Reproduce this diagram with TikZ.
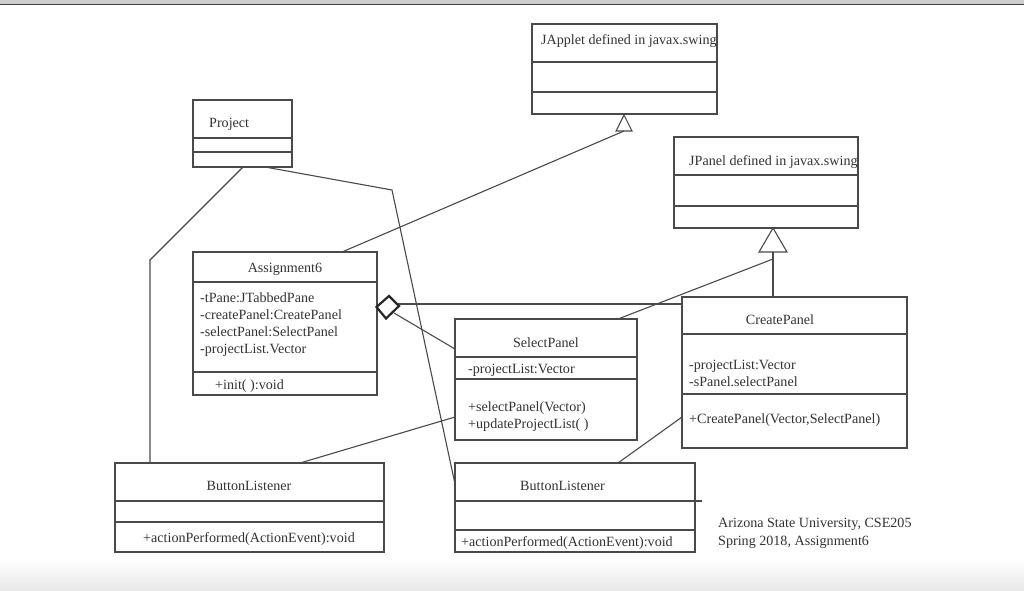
\documentclass[tikz,border=0pt]{standalone}
\usepackage{fontspec}
\setmainfont{Liberation Serif}
\usetikzlibrary{shapes.geometric}
\definecolor{ln}{HTML}{4A4A4A}
\definecolor{tx}{HTML}{333333}
\begin{document}
\begin{tikzpicture}[x=1pt,y=-1pt,
  box/.style={draw=ln,line width=1.1pt,anchor=north west,inner sep=0pt,outer sep=0pt},
  sep/.style={draw=ln,line width=1.1pt},
  conn/.style={draw=ln,line width=1.1pt},
  lbl/.style={text=tx,font=\fontsize{14.1}{17}\selectfont,inner sep=0pt},
  lw/.style={lbl,anchor=base west},
  lc/.style={lbl,anchor=base},
  tri/.style={draw=ln,line width=1.1pt,fill=white}]
\useasboundingbox (0,0) rectangle (1024,590);
% page background
\fill[white] (0,0) rectangle (1024,590);
\fill[gray!40] (0,0) rectangle (1024,3.5);
\fill[black!75] (0,3.5) rectangle (1024,5);
\shade[top color=white,bottom color=black!9] (0,560) rectangle (1024,590);

% JApplet
\node[box,minimum width=185pt,minimum height=90pt] (ja) at (532,24) {};
\draw[sep] (532,62) -- (717,62);
\draw[sep] (532,92) -- (717,92);
\node[lw] (jat) at (541,44) {JApplet defined in javax.swing};

% Project
\node[box,minimum width=99pt,minimum height=67pt] (pr) at (193,100) {};
\draw[sep] (193,138) -- (292,138);
\draw[sep] (193,152) -- (292,152);
\node[lw] (prt) at (209,127) {Project};

% Assignment6
\node[box,minimum width=184pt,minimum height=143pt] (as) at (193,252) {};
\draw[sep] (193,282) -- (377,282);
\draw[sep] (193,372) -- (377,372);
\node[lc] (ast) at (285,272) {Assignment6};
\node[lw] (asa1) at (200,302) {-tPane:JTabbedPane};
\node[lw] (asa2) at (200,319) {-createPanel:CreatePanel};
\node[lw] (asa3) at (200,336) {-selectPanel:SelectPanel};
\node[lw] (asa4) at (200,353) {-projectList.Vector};
\node[lw] (asm) at (215,389) {+init( ):void};

% SelectPanel
\node[box,minimum width=182pt,minimum height=121pt] (sp) at (455,319) {};
\draw[sep] (455,357) -- (637,357);
\draw[sep] (455,379) -- (637,379);
\node[lc] (spt) at (546,347) {SelectPanel};
\node[lw] (spa) at (468,373) {-projectList:Vector};
\node[lw] (spm1) at (468,411) {+selectPanel(Vector)};
\node[lw] (spm2) at (468,428) {+updateProjectList( )};

% JPanel
\node[box,minimum width=184pt,minimum height=91pt] (jp) at (674,137) {};
\draw[sep] (674,175) -- (858,175);
\draw[sep] (674,206) -- (858,206);
\node[lw] (jpt) at (689,165) {JPanel defined in javax.swing};

% CreatePanel
\node[box,minimum width=225pt,minimum height=151pt] (cp) at (682,297) {};
\draw[sep] (682,334) -- (907,334);
\draw[sep] (682,394) -- (907,394);
\node[lc] (cpt) at (780,324) {CreatePanel};
\node[lw] (cpa1) at (689,369) {-projectList:Vector};
\node[lw] (cpa2) at (689,386) {-sPanel.selectPanel};
\node[lw] (cpm) at (689,423) {+CreatePanel(Vector,SelectPanel)};

% ButtonListener 1
\node[box,minimum width=269pt,minimum height=89pt] (b1) at (115,463) {};
\draw[sep] (115,501) -- (384,501);
\draw[sep] (115,522) -- (384,522);
\node[lc] (b1t) at (249,490) {ButtonListener};
\node[lc] (b1m) at (249,542) {+actionPerformed(ActionEvent):void};

% ButtonListener 2
\node[box,minimum width=240pt,minimum height=89pt] (b2) at (455,463) {};
\draw[sep] (455,501) -- (702,501);
\draw[sep] (455,530) -- (695,530);
\node[lw] (b2t) at (520,490) {ButtonListener};
\node[lw] (b2m) at (461,546) {+actionPerformed(ActionEvent):void};

% footer text
\node[lw] (f1) at (718,527) {Arizona State University, CSE205};
\node[lw] (f2) at (718,545) {Spring 2018, Assignment6};

% generalization triangles
\coordinate (t1tip) at (624,115);
\coordinate (t1base) at (624,131);
\draw[tri] (t1tip) -- (632,131) -- (616,131) -- cycle;
\coordinate (t2tip) at (773,228);
\coordinate (t2base) at (773,252);
\draw[tri] (t2tip) -- (787,252) -- (759,252) -- cycle;

% connectors
\coordinate (k1) at (150,260);
\coordinate (k2) at (392,190);
\draw[conn] (pr.south west) ++(50,0) coordinate (p1) -- (k1) -- (b1.north west -| k1);
\draw[conn] (pr.south west) ++(72,0) coordinate (p2) -- (k2) -- (455,484);
\draw[conn] (as.north west) ++(149,0) -- (t1base);
\draw[conn] (t2base) -- (773,297);
\coordinate (t2j) at (773,259);
\draw[conn] (t2j) -- (618,319);
\draw[conn] (455,417) -- (300,463);
\draw[conn] (682,417) -- (618,463);

% aggregation diamond
\draw[conn] (397,304) -- (682,304);
\draw[conn] (394,313) -- (455,349);
\draw[draw=black!85,line width=2.2pt,fill=white,line join=miter]
  (376.5,307) coordinate (dw) -- (389,296) coordinate (dn) -- (399,306) coordinate (de) -- (386,318.5) coordinate (ds) -- cycle;
\end{tikzpicture}
\end{document}
